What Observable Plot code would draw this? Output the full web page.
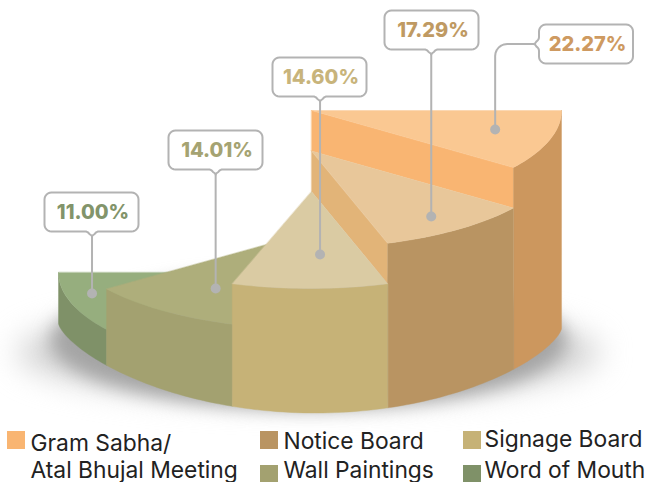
<!DOCTYPE html>
<html>
<head>
<meta charset="utf-8">
<style>html,body{margin:0;padding:0;background:#fff;overflow:hidden}svg{display:block}</style>
<script src="https://cdn.jsdelivr.net/npm/d3@7"></script>
<script src="https://cdn.jsdelivr.net/npm/@observablehq/plot@0.6"></script>
</head>
<body>
<script>
// ---- data ----
const categories = ["Gram Sabha/\nAtal Bhujal Meeting", "Notice Board", "Signage Board", "Wall Paintings", "Word of Mouth"];
const shares = [22.27, 17.29, 14.60, 14.01, 11.00];
const tickLabels = ["22.27%", "17.29%", "14.60%", "14.01%", "11.00%"];

// ---- styles ----
const topColors = ["#FAC892", "#E8C79A", "#DACBA3", "#AEAE7B", "#96AE7E"];
const sideColors = ["#CC975E", "#B99462", "#C6B277", "#A3A170", "#7F9168"];
const innerColors = ["#F9B572", "#E2B478", null, null, null];
const labelColors = ["#CE9A61", "#BF9A63", "#C8B47B", "#A5A372", "#82946B"];
const legendColors = ["#F9B572", "#B99462", "#C6B277", "#A3A170", "#7F9168"];

// ---- stepped half-disc model ----
const cx = 309.5, R = 251.5, apexX = 311, topY = 110, step = 40.5, topRy = 97;
const baseY = 325.5, baseRy = 87, baseTilt = 2.5, basePow = 1.4;
const sweep = 36, rad = Math.PI / 180;
const order = shares.map((_, i) => i);
const rank = shares.map(v => d3.sum(shares, w => w > v ? 1 : 0)); // 0 = tallest step
const apexY = rank.map(r => topY + step * r);
const rimPt = (i, a) => ({x: cx + R * Math.cos(a * rad), y: apexY[i] + topRy * Math.sin(a * rad)});
const basePt = a => ({x: cx + R * Math.cos(a * rad),
  y: baseY + baseTilt * Math.cos(a * rad) + baseRy * Math.pow(Math.sin(a * rad), basePow)});
const sweepAngles = i => d3.range(0, 25).map(k => (i + k / 24) * sweep);
const topFace = i => [{x: apexX, y: apexY[i]}, ...sweepAngles(i).map(a => rimPt(i, a))];
const sideFace = i => [...sweepAngles(i).map(a => rimPt(i, a)), ...sweepAngles(i).reverse().map(basePt)];
const innerWall = i => {
  const e = rimPt(i, (i + 1) * sweep);
  return [{x: apexX, y: apexY[i]}, e, {x: e.x, y: e.y + step}, {x: apexX, y: apexY[i] + step}];
};
// notice board's wall runs along the edge it shares with signage board
const innerWallFor = i => i === 1
  ? [{x: apexX, y: apexY[1]}, rimPt(1, 2 * sweep), rimPt(2, 2 * sweep), {x: apexX, y: apexY[2]}]
  : innerWall(i);

const poly = (pts, fill, extra = {}) =>
  Plot.line(pts, {x: "x", y: "y", fill, stroke: fill, strokeWidth: 0.4, curve: "linear-closed", ...extra});

// ---- callouts ----
const anchorAngle = [15, 54.8, 87, 123.2, 166.1];
const anchorRadius = [0.756, 0.826, 0.65, 0.696, 0.899];
const anchor = i => {
  const a = anchorAngle[i] * rad, f = anchorRadius[i];
  return {x: apexX + R * f * Math.cos(a), y: apexY[i] + topRy * f * Math.sin(a)};
};
const boxLeft = [538.5, 384, 272, 168, 44];
const boxTop = [24, 10, 57, 130, 192];
const boxW = 94, boxH = 39, cr = 7;
const arc = (x, y, r, a0, a1) => d3.range(0, 7).map(k => {
  const t = (a0 + (a1 - a0) * k / 6) * rad;
  return {x: x + r * Math.cos(t), y: y + r * Math.sin(t)};
});
// outline of a label box; side "b" has its notch at the bottom, "l" at the left
function boxOutline(l, t, side, n) {
  const r = l + boxW, b = t + boxH;
  const pts = [...arc(l + cr, t + cr, cr, 180, 270), ...arc(r - cr, t + cr, cr, 270, 360), ...arc(r - cr, b - cr, cr, 0, 90)];
  if (side === "b") pts.push(...arc(n + 7, b + 5, 5, -90, -150), {x: n + 0.5, y: b + 4}, {x: n, y: b + 5}, {x: n - 0.5, y: b + 4}, ...arc(n - 7, b + 5, 5, -30, -90));
  pts.push(...arc(l + cr, b - cr, cr, 90, 180));
  if (side === "l") pts.push(...arc(l - 5, n + 7, 5, 0, -60), {x: l - 4, y: n + 0.5}, {x: l - 5, y: n}, {x: l - 4, y: n - 0.5}, ...arc(l - 5, n - 7, 5, 60, 0));
  return pts;
}
const boxStroke = "#B3B3B3";
const calloutMarks = order.slice().reverse().flatMap(i => {
  const p = anchor(i);
  const sideLeft = i === 0;
  const left = boxLeft[i];
  const top = boxTop[i];
  const midY = top + boxH / 2;
  const lead = sideLeft
    ? [{x: left - 4, y: midY}, ...arc(p.x + 12, midY + 12, 12, -90, -180), p]
    : [{x: p.x, y: top + boxH + 4}, p];
  return [
    Plot.line(lead, {x: "x", y: "y", stroke: boxStroke, strokeWidth: 2, curve: "linear"}),
    Plot.dot([p], {x: "x", y: "y", r: 5, fill: boxStroke}),
    Plot.line(boxOutline(left, top, sideLeft ? "l" : "b", sideLeft ? midY : p.x),
      {x: "x", y: "y", fill: "#fff", stroke: boxStroke, strokeWidth: 2, curve: "linear-closed"}),
    Plot.text([tickLabels[i]], {
      x: left + boxW / 2 + 1.5, y: midY + 0.5, text: d => d, fill: labelColors[i],
      fontFamily: "Inter, 'DejaVu Sans', sans-serif", fontWeight: 800, fontSize: 20, lineAnchor: "middle"
    })
  ];
});

// ---- legend ----
const legendCol = [7, 260, 463];
const legendRow = [431, 465];
const legendSlots = [[0, 0], [1, 0], [2, 0], [1, 1], [2, 1]];
const baselines = [[450, 448, 446], [477, 477, 477]];
const legendText = categories.flatMap((c, i) => {
  const [col, row] = legendSlots[i];
  return c.split("\n").map((line, k) => ({
    line, x: legendCol[col] + (col === 2 ? 21 : 23), y: baselines[row + k][col]
  }));
});
const legendSwatches = categories.map((c, i) => {
  const [col, row] = legendSlots[i];
  return {x1: legendCol[col], x2: legendCol[col] + 18, y1: legendRow[row], y2: legendRow[row] + 18, fill: legendColors[i]};
});

// ---- shadow ----
const ellipse = (x0, y0, rx, ry) => d3.range(0, 73).map(k => ({
  x: x0 + rx * Math.cos(k * 5 * rad),
  y: y0 + ry * Math.sin(k * 5 * rad)
}));

const slice = i => [poly(sideFace(i), sideColors[i]), poly(topFace(i), topColors[i])];

const plot = Plot.plot({
  width: 647, height: 482, margin: 0,
  style: {background: "#fff", overflow: "hidden"},
  x: {domain: [0, 647], range: [0, 647], axis: null},
  y: {domain: [0, 482], range: [0, 482], axis: null},
  marks: [
    Plot.line(ellipse(308, 352, 292, 48), {x: "x", y: "y", fill: "#d4d4d4", stroke: "none", curve: "linear-closed", imageFilter: "blur(15px)"}),
    Plot.line(ellipse(308, 340, 258, 68), {x: "x", y: "y", fill: "#a4a4a4", stroke: "none", curve: "linear-closed", imageFilter: "blur(9px)"}),
    poly(innerWall(0), innerColors[0]),
    ...slice(0),
    ...slice(4),
    ...slice(3),
    poly(innerWallFor(1), innerColors[1]),
    ...slice(1),
    ...slice(2),
    ...calloutMarks,
    Plot.rect(legendSwatches, {x1: "x1", x2: "x2", y1: "y1", y2: "y2", fill: "fill"}),
    Plot.text(legendText, {
      x: "x", y: "y", text: "line", textAnchor: "start", lineAnchor: "bottom", fill: "#222",
      fontFamily: "Inter, 'DejaVu Sans', sans-serif", fontSize: 22.8
    })
  ]
});
document.body.appendChild(plot);
</script>
</body>
</html>
